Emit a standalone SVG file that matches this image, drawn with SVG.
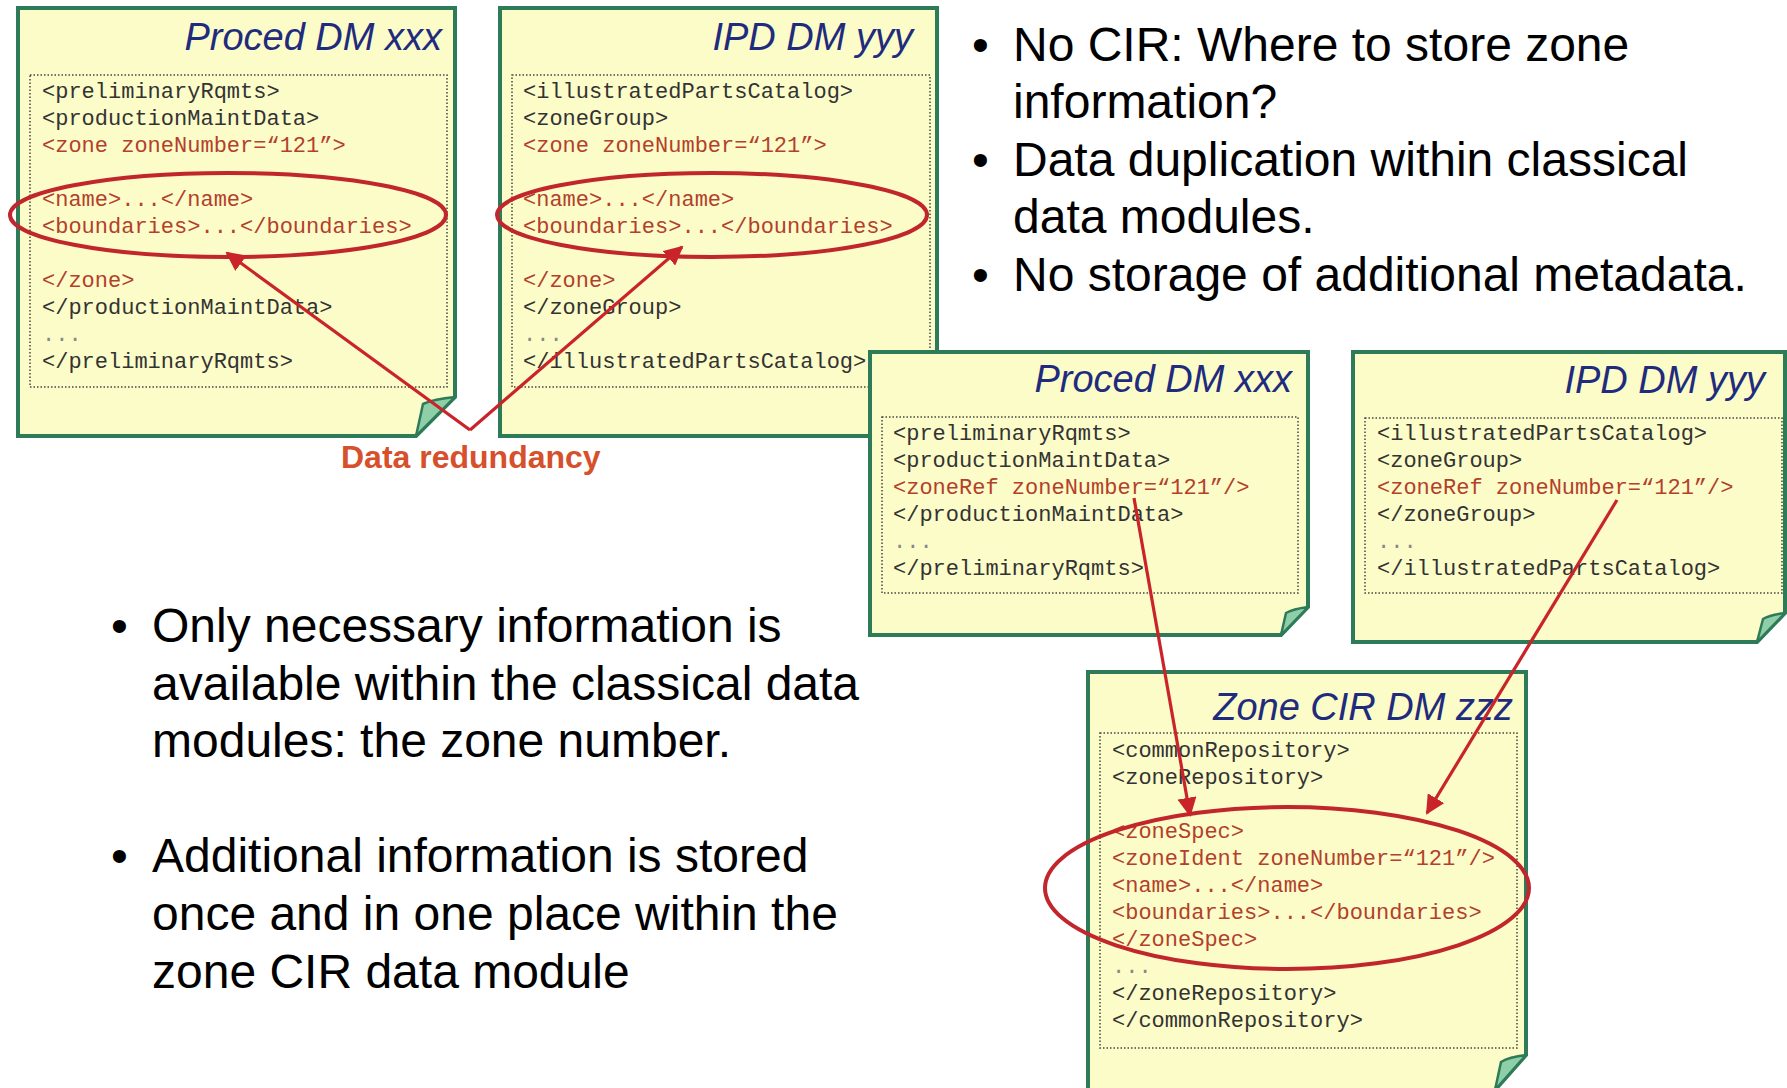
<svg xmlns="http://www.w3.org/2000/svg" width="1787" height="1088" viewBox="0 0 1787 1088">
<style>
.box{fill:#fcfcc9;stroke:#2e7b59;stroke-width:4;stroke-linejoin:miter}
.fold{fill:#8fcfa8;stroke:#2e7b59;stroke-width:2.5;stroke-linejoin:round}
.inner{fill:none;stroke:#444;stroke-width:1.5;stroke-dasharray:1.5 2}
.title{font-family:"Liberation Sans",Arial,sans-serif;font-style:italic;font-size:38px;fill:#1f2b7d;text-anchor:end}
.code{font-family:"Liberation Mono","Courier New",monospace;font-size:22px;fill:#333}
.red{fill:#b3402c}
.dots{fill:#888}
.bt{font-family:"Liberation Sans",Arial,sans-serif;font-size:48px;fill:#000}
.oval{fill:none;stroke:#c0262c;stroke-width:4}
.conn{stroke:#c8242a;stroke-width:3.2;fill:none}
.label{font-family:"Liberation Sans",Arial,sans-serif;font-weight:bold;font-size:32px;fill:#d6502b}
</style>
<defs>
<marker id="ah" viewBox="0 0 10 10" refX="9" refY="5" markerWidth="6" markerHeight="6" orient="auto" markerUnits="strokeWidth">
<path d="M0,0 L10,5 L0,10 Z" fill="#c8242a"/>
</marker>
</defs>
<rect width="1787" height="1088" fill="#ffffff"/>

<g id="proced-dm-top">
<path class="box" d="M18,8 H455 V397 L416,436 H18 Z"/>
<path class="fold" d="M455,397 Q434,399 423,404 L416,436 Z"/>
<rect class="inner" x="30" y="75" width="417" height="312"/>
<text class="title" x="442" y="50">Proced DM xxx</text>
<text class="code" x="42" y="98">&lt;preliminaryRqmts&gt;</text>
<text class="code" x="42" y="125">&lt;productionMaintData&gt;</text>
<text class="code red" x="42" y="152">&lt;zone zoneNumber=“121”&gt;</text>
<text class="code red" x="42" y="206">&lt;name&gt;...&lt;/name&gt;</text>
<text class="code red" x="42" y="233">&lt;boundaries&gt;...&lt;/boundaries&gt;</text>
<text class="code red" x="42" y="287">&lt;/zone&gt;</text>
<text class="code" x="42" y="314">&lt;/productionMaintData&gt;</text>
<text class="code dots" x="42" y="341">...</text>
<text class="code" x="42" y="368">&lt;/preliminaryRqmts&gt;</text>
</g>

<g id="ipd-dm-top">
<path class="box" d="M500,8 H937 V397 L898,436 H500 Z"/>
<path class="fold" d="M937,397 Q916,399 905,404 L898,436 Z"/>
<rect class="inner" x="512" y="75" width="418" height="312"/>
<text class="title" x="913" y="50">IPD DM yyy</text>
<text class="code" x="523" y="98">&lt;illustratedPartsCatalog&gt;</text>
<text class="code" x="523" y="125">&lt;zoneGroup&gt;</text>
<text class="code red" x="523" y="152">&lt;zone zoneNumber=“121”&gt;</text>
<text class="code red" x="523" y="206">&lt;name&gt;...&lt;/name&gt;</text>
<text class="code red" x="523" y="233">&lt;boundaries&gt;...&lt;/boundaries&gt;</text>
<text class="code red" x="523" y="287">&lt;/zone&gt;</text>
<text class="code" x="523" y="314">&lt;/zoneGroup&gt;</text>
<text class="code dots" x="523" y="341">...</text>
<text class="code" x="523" y="368">&lt;/illustratedPartsCatalog&gt;</text>
</g>

<g id="proced-dm-bottom">
<path class="box" d="M870,352 H1308 V607 L1281,635 H870 Z"/>
<path class="fold" d="M1308,607 Q1293,609 1286,613 L1281,635 Z"/>
<rect class="inner" x="882" y="417" width="416" height="176"/>
<text class="title" x="1292" y="392">Proced DM xxx</text>
<text class="code" x="893" y="440">&lt;preliminaryRqmts&gt;</text>
<text class="code" x="893" y="467">&lt;productionMaintData&gt;</text>
<text class="code red" x="893" y="494">&lt;zoneRef zoneNumber=“121”/&gt;</text>
<text class="code" x="893" y="521">&lt;/productionMaintData&gt;</text>
<text class="code dots" x="893" y="548">...</text>
<text class="code" x="893" y="575">&lt;/preliminaryRqmts&gt;</text>
</g>

<g id="ipd-dm-bottom">
<path class="box" d="M1353,352 H1785 V613 L1757,642 H1353 Z"/>
<path class="fold" d="M1785,613 Q1770,615 1763,619 L1757,642 Z"/>
<rect class="inner" x="1365" y="418" width="417" height="175"/>
<text class="title" x="1765" y="393">IPD DM yyy</text>
<text class="code" x="1377" y="440">&lt;illustratedPartsCatalog&gt;</text>
<text class="code" x="1377" y="467">&lt;zoneGroup&gt;</text>
<text class="code red" x="1377" y="494">&lt;zoneRef zoneNumber=“121”/&gt;</text>
<text class="code" x="1377" y="521">&lt;/zoneGroup&gt;</text>
<text class="code dots" x="1377" y="548">...</text>
<text class="code" x="1377" y="575">&lt;/illustratedPartsCatalog&gt;</text>
</g>

<g id="zone-cir-dm">
<path class="box" d="M1088,672 H1526 V1055 L1495,1090 H1088 Z"/>
<path class="fold" d="M1526,1055 Q1509,1057 1501,1062 L1495,1090 Z"/>
<rect class="inner" x="1100" y="733" width="417" height="315"/>
<text class="title" x="1513" y="720">Zone CIR DM zzz</text>
<text class="code" x="1112" y="757">&lt;commonRepository&gt;</text>
<text class="code" x="1112" y="784">&lt;zoneRepository&gt;</text>
<text class="code red" x="1112" y="838">&lt;zoneSpec&gt;</text>
<text class="code red" x="1112" y="865">&lt;zoneIdent zoneNumber=“121”/&gt;</text>
<text class="code red" x="1112" y="892">&lt;name&gt;...&lt;/name&gt;</text>
<text class="code red" x="1112" y="919">&lt;boundaries&gt;...&lt;/boundaries&gt;</text>
<text class="code red" x="1112" y="946">&lt;/zoneSpec&gt;</text>
<text class="code dots" x="1112" y="973">...</text>
<text class="code" x="1112" y="1000">&lt;/zoneRepository&gt;</text>
<text class="code" x="1112" y="1027">&lt;/commonRepository&gt;</text>
</g>

<g id="highlights">
<ellipse class="oval" cx="228" cy="215" rx="218" ry="42"/>
<ellipse class="oval" cx="712" cy="215" rx="215" ry="42"/>
<ellipse class="oval" cx="1287" cy="888" rx="242" ry="81"/>
</g>

<g id="connectors">
<line class="conn" x1="470" y1="430" x2="227" y2="253" marker-end="url(#ah)"/>
<line class="conn" x1="470" y1="430" x2="682" y2="247" marker-end="url(#ah)"/>
<line class="conn" x1="1134" y1="498" x2="1190" y2="815" marker-end="url(#ah)"/>
<line class="conn" x1="1617" y1="500" x2="1427" y2="813" marker-end="url(#ah)"/>
</g>

<g id="data-redundancy-label">
<text class="label" x="341" y="468">Data redundancy</text>
</g>

<g id="bullets-right">
<text class="bt" x="972" y="61">•</text>
<text class="bt" x="1013" y="61">No CIR: Where to store zone</text>
<text class="bt" x="1013" y="118">information?</text>
<text class="bt" x="972" y="176">•</text>
<text class="bt" x="1013" y="176">Data duplication within classical</text>
<text class="bt" x="1013" y="233">data modules.</text>
<text class="bt" x="972" y="291">•</text>
<text class="bt" x="1013" y="291">No storage of additional metadata.</text>
</g>

<g id="bullets-left">
<text class="bt" x="111" y="642">•</text>
<text class="bt" x="152" y="642">Only necessary information is</text>
<text class="bt" x="152" y="700">available within the classical data</text>
<text class="bt" x="152" y="757">modules: the zone number.</text>
<text class="bt" x="111" y="872">•</text>
<text class="bt" x="152" y="872">Additional information is stored</text>
<text class="bt" x="152" y="930">once and in one place within the</text>
<text class="bt" x="152" y="988">zone CIR data module</text>
</g>
</svg>
